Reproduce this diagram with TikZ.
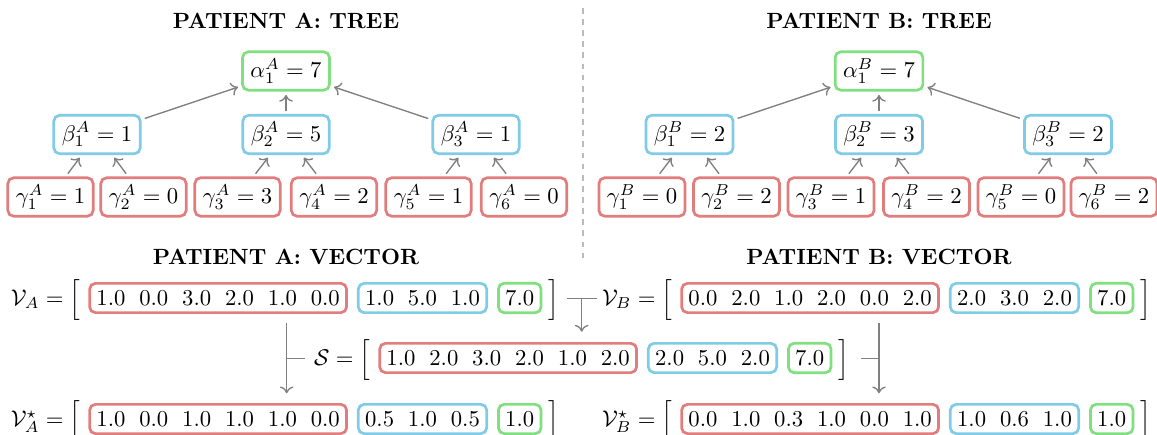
\documentclass[tikz,border=0pt]{standalone}
\usepackage{amsmath,amssymb}
\usetikzlibrary{calc,arrows.meta}
\definecolor{cred}{HTML}{E27D7D}
\definecolor{cblue}{HTML}{80CCE6}
\definecolor{cgreen}{HTML}{80E080}
\definecolor{cgray}{HTML}{808080}
\definecolor{cdash}{HTML}{BBBBBB}
\newcommand{\nsep}{\hspace{6.1pt}}
\newcommand{\vrow}[7]{%
  \node[vbox,draw=cred] (r#1) at (#2,#3) {#5};
  \node[vbox,draw=cblue] (b#1) at ($(r#1.east)+(9,0)$) {#6};
  \node[vbox,draw=cgreen] (g#1) at ($(b#1.east)+(9,0)$) {#7};
  \node[lbl] (l#1) at ($(r#1.west)+(-24.3,7.3)$) {$#4$};
  \node[brk] (o#1) at ($(r#1.west)+(-13.8,7.3)$) {$\Big[$};
  \node[brk] (c#1) at ($(g#1.east)+(11.8,7.3)$) {$\Big]$};
}
\begin{document}
\begin{tikzpicture}[x=0.4405pt,y=-0.4405pt,
  box/.style={draw,rounded corners=2.5pt,line width=1.2pt,inner xsep=3.5pt,inner ysep=3pt,fill=white},
  rbox/.style={box,draw=cred}, bbox/.style={box,draw=cblue}, gbox/.style={box,draw=cgreen},
  vbox/.style={draw,rounded corners=2.5pt,line width=1.2pt,inner sep=3pt,anchor=west},
  arr/.style={draw=cgray,line width=0.6pt,-{To[length=3pt,width=6pt]},shorten <=1.5pt,shorten >=1.5pt},
  arrv/.style={draw=cgray,line width=0.6pt,-{To[length=3pt,width=6pt]}},
  conn/.style={draw=cgray,line width=0.6pt},
  ttl/.style={font=\fontsize{9.7}{12}\selectfont\bfseries,inner sep=0pt},
  lbl/.style={inner sep=0pt,anchor=base east},
  brk/.style={inner sep=0pt,anchor=base}]
\useasboundingbox (0,0) rectangle (1157,435);

% titles
\node[ttl] (tTA) at (286,20.5) {PATIENT A: TREE};
\node[ttl] (tTB) at (879,20.5) {PATIENT B: TREE};
\node[ttl] (tVA) at (286,257) {PATIENT A: VECTOR};
\node[ttl] (tVB) at (879,257) {PATIENT B: VECTOR};

% separator
\coordinate (d1) at (583,8);
\coordinate (d2) at (583,259);
\draw[cdash,line width=0.6pt,dash pattern=on 2.5pt off 2.4pt] (d1) -- (d2);

% tree A
\node[gbox] (aA) at (286,71) {$\alpha_1^A = 7$};
\node[bbox] (bA1) at (97,134.5) {$\beta_1^A = 1$};
\node[bbox] (bA2) at (286,134.5) {$\beta_2^A = 5$};
\node[bbox] (bA3) at (476,134.5) {$\beta_3^A = 1$};
\node[rbox] (gA1) at (50.5,197) {$\gamma_1^A = 1$};
\node[rbox] (gA2) at (143.5,197) {$\gamma_2^A = 0$};
\node[rbox] (gA3) at (237.5,197) {$\gamma_3^A = 3$};
\node[rbox] (gA4) at (334,197) {$\gamma_4^A = 2$};
\node[rbox] (gA5) at (428.5,197) {$\gamma_5^A = 1$};
\node[rbox] (gA6) at (524,197) {$\gamma_6^A = 0$};
\draw[arr] (bA1) -- (aA);
\draw[arr] (bA2) -- (aA);
\draw[arr] (bA3) -- (aA);
\draw[arr] (gA1) -- (bA1);
\draw[arr] (gA2) -- (bA1);
\draw[arr] (gA3) -- (bA2);
\draw[arr] (gA4) -- (bA2);
\draw[arr] (gA5) -- (bA3);
\draw[arr] (gA6) -- (bA3);

% tree B
\node[gbox] (aB) at (879,71) {$\alpha_1^B = 7$};
\node[bbox] (bB1) at (689.5,134.5) {$\beta_1^B = 2$};
\node[bbox] (bB2) at (879,134.5) {$\beta_2^B = 3$};
\node[bbox] (bB3) at (1068,134.5) {$\beta_3^B = 2$};
\node[rbox] (gB1) at (642,197) {$\gamma_1^B = 0$};
\node[rbox] (gB2) at (736.5,197) {$\gamma_2^B = 2$};
\node[rbox] (gB3) at (831,197) {$\gamma_3^B = 1$};
\node[rbox] (gB4) at (926.5,197) {$\gamma_4^B = 2$};
\node[rbox] (gB5) at (1021,197) {$\gamma_5^B = 0$};
\node[rbox] (gB6) at (1114,197) {$\gamma_6^B = 2$};
\draw[arr] (bB1) -- (aB);
\draw[arr] (bB2) -- (aB);
\draw[arr] (bB3) -- (aB);
\draw[arr] (gB1) -- (bB1);
\draw[arr] (gB2) -- (bB1);
\draw[arr] (gB3) -- (bB2);
\draw[arr] (gB4) -- (bB2);
\draw[arr] (gB5) -- (bB3);
\draw[arr] (gB6) -- (bB3);

% vectors
\vrow{VA}{88.3}{298}{\mathcal{V}_A =}{1.0\nsep 0.0\nsep 3.0\nsep 2.0\nsep 1.0\nsep 0.0}{1.0\nsep 5.0\nsep 1.0}{7.0}
\vrow{VB}{680.3}{298}{\mathcal{V}_B =}{0.0\nsep 2.0\nsep 1.0\nsep 2.0\nsep 0.0\nsep 2.0}{2.0\nsep 3.0\nsep 2.0}{7.0}
\vrow{S}{378.3}{358}{\mathcal{S} =}{1.0\nsep 2.0\nsep 3.0\nsep 2.0\nsep 1.0\nsep 2.0}{2.0\nsep 5.0\nsep 2.0}{7.0}
\vrow{VAs}{88.3}{419}{\mathcal{V}^\star_A =}{1.0\nsep 0.0\nsep 1.0\nsep 1.0\nsep 1.0\nsep 0.0}{0.5\nsep 1.0\nsep 0.5}{1.0}
\vrow{VBs}{680.3}{419}{\mathcal{V}^\star_B =}{0.0\nsep 1.0\nsep 0.3\nsep 1.0\nsep 0.0\nsep 1.0}{1.0\nsep 0.6\nsep 1.0}{1.0}

% merge connector
\coordinate (tL) at (566.7,298.3);
\coordinate (tR) at (596.7,298.3);
\coordinate (tM) at (581.7,298.3);
\coordinate (tE) at (581.7,331.7);
\draw[conn] (tL) -- (tR);
\draw[arrv] (tM) -- (tE);

% left connector
\coordinate (aTop) at (286.7,322.7);
\coordinate (aBot) at (286.7,393.3);
\coordinate (aJ) at (286.7,358.3);
\coordinate (aS) at (305,358.3);
\draw[conn] (aS) -- (aJ);
\draw[arrv] (aTop) -- (aBot);

% right connector
\coordinate (bTop) at (879,322.7);
\coordinate (bBot) at (879,393.3);
\coordinate (bJ) at (879,358.3);
\coordinate (bS) at (861,358.3);
\draw[conn] (bS) -- (bJ);
\draw[arrv] (bTop) -- (bBot);
\end{tikzpicture}
\end{document}
